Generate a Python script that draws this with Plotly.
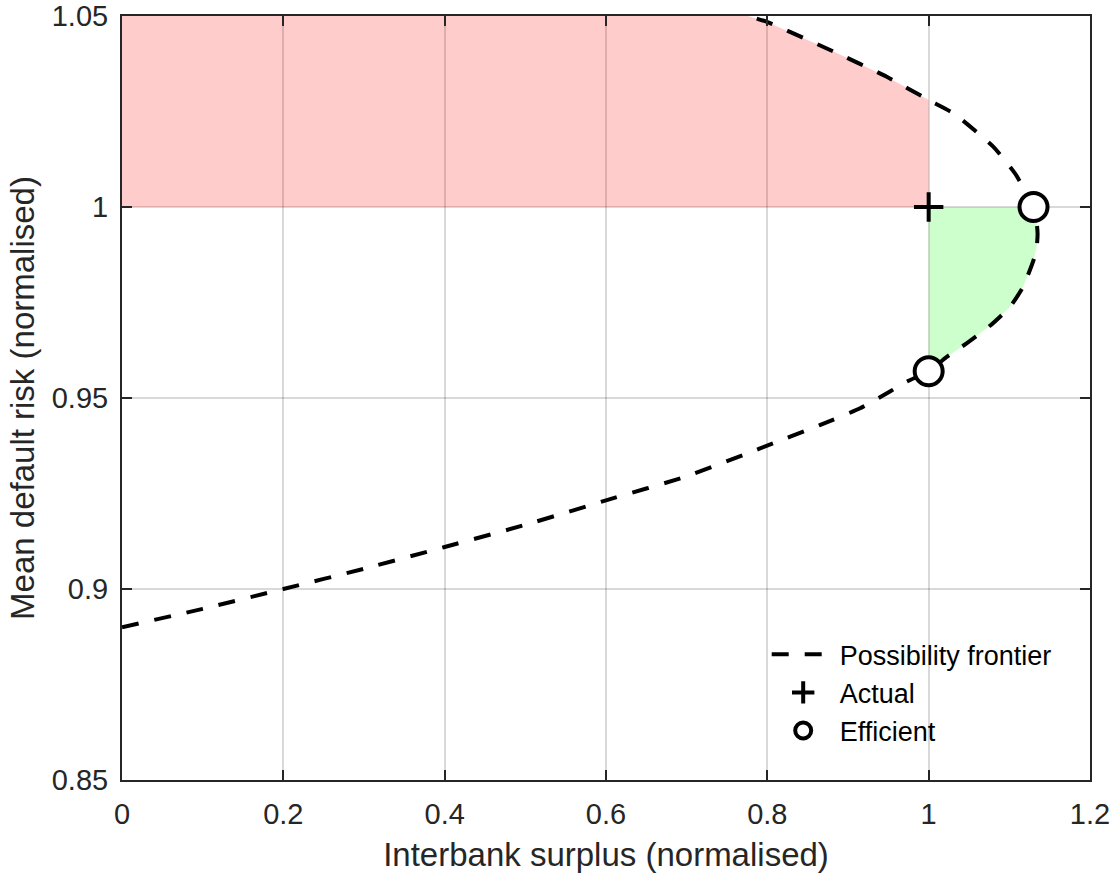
import plotly.graph_objects as go

# Possibility frontier (interbank surplus vs mean default risk, normalised)
frontier_x = [0.0, 0.1, 0.2, 0.3, 0.4, 0.5, 0.6, 0.7, 0.791, 0.865, 0.915, 0.952, 0.973, 1.0,
              1.022, 1.047, 1.076, 1.101, 1.117, 1.13, 1.134, 1.135, 1.134, 1.13,
              1.119, 1.107, 1.08, 1.031, 1.0, 0.948, 0.882, 0.799, 0.776]
frontier_y = [0.890, 0.8948, 0.9000, 0.9053, 0.9110, 0.9168, 0.9232, 0.9295, 0.9368,
              0.9429, 0.9473, 0.9517, 0.9543, 0.957,
              0.9607, 0.9643, 0.9689, 0.9739, 0.9791, 0.9861, 0.9896, 0.9930, 0.9957, 1.0,
              1.0045, 1.0088, 1.0158, 1.0245, 1.028, 1.0341, 1.0407, 1.0485, 1.05]

actual_x = [1.0]
actual_y = [1.0]

efficient_x = [1.0, 1.13]
efficient_y = [0.957, 1.0]

x_ticks = [0, 0.2, 0.4, 0.6, 0.8, 1.0, 1.2]
x_ticktext = ["0", "0.2", "0.4", "0.6", "0.8", "1", "1.2"]
y_ticks = [0.85, 0.9, 0.95, 1.0, 1.05]
y_ticktext = ["0.85", "0.9", "0.95", "1", "1.05"]

x_range = [0, 1.2]
y_range = [0.85, 1.05]

ax0, ay0 = actual_x[0], actual_y[0]

# Red region: worse on both counts (x <= actual, y >= actual) bounded by frontier
red_pts = [(x, y) for x, y in zip(frontier_x, frontier_y) if x <= ax0 and y >= ay0]
red_x = [x_range[0], ax0] + [p[0] for p in red_pts] + [x_range[0]]
red_y = [ay0, ay0] + [p[1] for p in red_pts] + [y_range[1]]

# Green region: better on both counts, bounded by frontier
green_pts = [(x, y) for x, y in zip(frontier_x, frontier_y) if x >= ax0 and y <= ay0]
green_pts = green_pts[::-1]
green_x = [ax0] + [p[0] for p in green_pts] + [ax0]
green_y = [ay0] + [p[1] for p in green_pts] + [ay0]

FONT = "Liberation Sans, Arial, Helvetica, sans-serif"
fig = go.Figure()

fig.add_trace(go.Scatter(x=red_x, y=red_y, fill="toself", mode="lines",
                         line=dict(width=0), fillcolor="rgba(255,0,0,0.2)",
                         showlegend=False, hoverinfo="skip"))
fig.add_trace(go.Scatter(x=green_x, y=green_y, fill="toself", mode="lines",
                         line=dict(width=0), fillcolor="rgba(0,255,0,0.2)",
                         showlegend=False, hoverinfo="skip"))

fig.add_trace(go.Scatter(x=frontier_x, y=frontier_y, mode="lines",
                         name="Possibility frontier",
                         line=dict(color="black", width=4, dash="17px,16px",
                                   shape="spline", smoothing=0.5)))
fig.add_trace(go.Scatter(x=actual_x, y=actual_y, mode="markers", name="Actual",
                         marker=dict(symbol="cross-thin", size=21, color="black",
                                     line=dict(color="black", width=4))))
fig.add_trace(go.Scatter(x=efficient_x, y=efficient_y, mode="markers", name="Efficient",
                         marker=dict(symbol="circle", size=28, color="white",
                                     line=dict(color="black", width=4))))

axis_common = dict(
    showline=True, linecolor="#262626", linewidth=2, mirror="ticks",
    ticks="inside", ticklen=10, tickwidth=2, tickcolor="#262626",
    showgrid=True, gridcolor="rgba(0,0,0,0.15)", gridwidth=1.5,
    zeroline=False, automargin=False,
    tickfont=dict(family=FONT, size=29, color="#262626"),
)

fig.update_layout(
    template="none",
    width=1115, height=873,
    margin=dict(l=122, r=25, t=16, b=93),
    paper_bgcolor="white", plot_bgcolor="white",
    font=dict(family=FONT, color="#262626"),
    xaxis=dict(range=x_range, tickvals=x_ticks, ticktext=x_ticktext,
               ticklabelstandoff=7,
               title=dict(text="Interbank surplus (normalised)",
                          font=dict(family=FONT, size=33, color="#262626"), standoff=21),
               **axis_common),
    yaxis=dict(range=y_range, tickvals=y_ticks, ticktext=y_ticktext,
               ticklabelstandoff=6,
               title=dict(text="Mean default risk (normalised)",
                          font=dict(family=FONT, size=33, color="#262626"), standoff=7),
               **axis_common),
    legend=dict(x=0.666, y=0.196, xanchor="left", yanchor="top",
                bgcolor="rgba(0,0,0,0)", borderwidth=0, itemwidth=63,
                font=dict(family=FONT, size=27, color="black"),
                tracegroupgap=0),
    showlegend=True,
)

# remove the default 8px page margin so the figure sits at the window's top-left corner
fig.write_html("out.html",
               config={"displayModeBar": False},
               post_script="document.body.style.margin='0';document.body.style.padding='0';")
